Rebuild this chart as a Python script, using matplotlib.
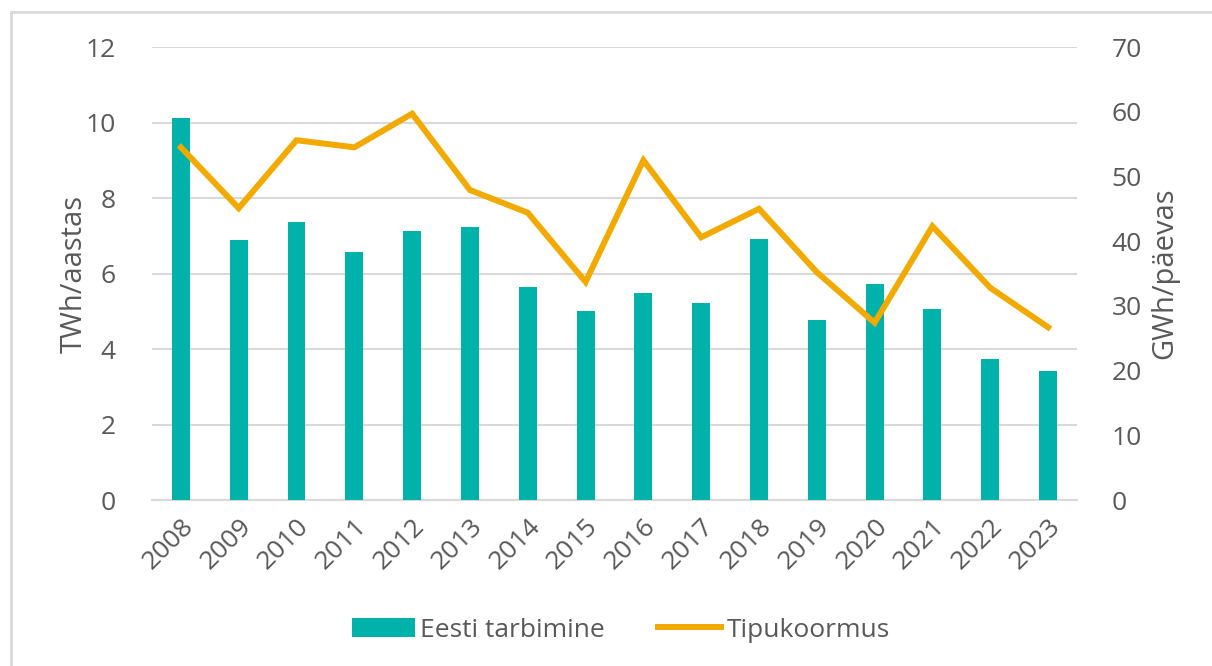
import matplotlib
matplotlib.use("Agg")
import matplotlib.pyplot as plt
import matplotlib.patches as patches
import numpy as np

# andmed
years = ['2008', '2009', '2010', '2011', '2012', '2013', '2014', '2015',
         '2016', '2017', '2018', '2019', '2020', '2021', '2022', '2023']
tarbimine = [10.12, 6.89, 7.36, 6.57, 7.13, 7.23, 5.64, 5.00,
             5.48, 5.22, 6.91, 4.77, 5.72, 5.06, 3.73, 3.42]
tipukoormus = [54.5, 45.1, 55.6, 54.5, 59.7, 47.9, 44.4, 33.7,
               52.5, 40.6, 45.0, 35.2, 27.4, 42.3, 32.8, 26.7]

bar_color = '#00B2A9'
line_color = '#F2A900'
text_color = '#595959'
grid_color = '#D9D9D9'

plt.rcParams['font.family'] = ['Open Sans', 'DejaVu Sans']

fig = plt.figure(figsize=(12.12, 6.66), dpi=100)
ax = fig.add_axes([0.1254, 0.2492, 0.7632, 0.6802])
ax2 = ax.twinx()

# raam ümber joonise
border = patches.Rectangle((11 / 1212, -0.1), 1.2, (666 - 12) / 666 + 0.1,
                           transform=fig.transFigure, fill=False,
                           edgecolor='#D9D9D9', linewidth=2, zorder=-5)
fig.patches.append(border)

x = np.arange(len(years))
b = ax.bar(x, tarbimine, width=0.31, color=bar_color, zorder=3, label='Eesti tarbimine')
l, = ax2.plot(x, tipukoormus, color=line_color, linewidth=4.3, zorder=4,
              solid_joinstyle='miter', label='Tipukoormus')

ax.set_xlim(-0.5, len(years) - 0.5)
ax.set_ylim(0, 12)
ax2.set_ylim(0, 70)
ax.set_yticks(range(0, 13, 2))
ax2.set_yticks(range(0, 71, 10))

ax.yaxis.grid(True, color=grid_color, linewidth=1.5, zorder=0)
ax.set_axisbelow(True)

for a in (ax, ax2):
    for s in a.spines.values():
        s.set_visible(False)
    a.tick_params(length=0, labelsize=19, colors=text_color)
ax.spines['bottom'].set_visible(True)
ax.spines['bottom'].set_color(grid_color)
ax.spines['bottom'].set_linewidth(1.5)

ax.set_xticks(x)
ax.set_xticklabels(years, rotation=45, ha='right', rotation_mode='anchor')
ax.tick_params(axis='x', pad=10)
ax.tick_params(axis='y', pad=26)
ax2.tick_params(axis='y', pad=25)

ax.set_ylabel('TWh/aastas', fontsize=21, color=text_color, labelpad=-2)
ax2.set_ylabel('GWh/päevas', fontsize=21, color=text_color, labelpad=6)

ax2.set_zorder(ax.get_zorder() + 1)
ax2.patch.set_visible(False)

leg = fig.legend(handles=[b, l], loc='center', bbox_to_anchor=(0.512, 0.054), ncol=2,
                 frameon=False, fontsize=19, handlelength=2.4, handleheight=0.75,
                 columnspacing=2.0, handletextpad=0.2)
for t in leg.get_texts():
    t.set_color(text_color)

fig.savefig('out.png', dpi=100)
